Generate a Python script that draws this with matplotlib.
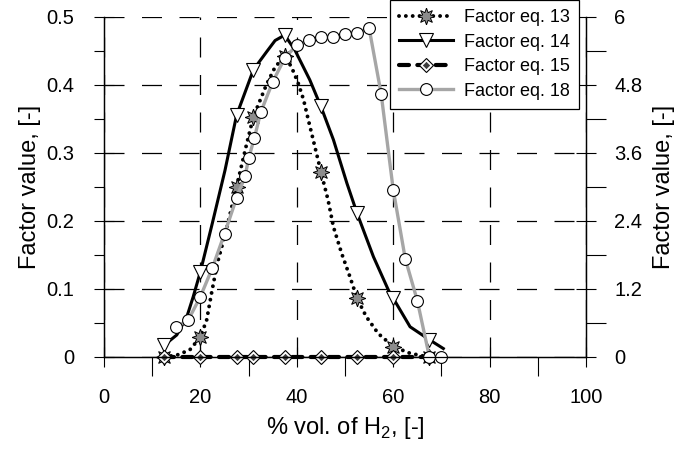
import matplotlib
matplotlib.use('Agg')
import matplotlib.pyplot as plt
from matplotlib.ticker import MultipleLocator, FormatStrFormatter

plt.rcParams['font.family'] = ['Liberation Sans', 'DejaVu Sans']
plt.rcParams['mathtext.fontset'] = 'custom'
plt.rcParams['mathtext.rm'] = 'Liberation Sans'

# точки с маркерами (eq. 13, 14, 15 - левая ось)
xm = [12.5, 20, 27.5, 31, 37.5, 45, 52.5, 60, 67.5]
y13 = [0, 0.029, 0.25, 0.353, 0.442, 0.272, 0.086, 0.015, 0]
y14 = [0.017, 0.125, 0.355, 0.422, 0.473, 0.368, 0.211, 0.086, 0.025]
y15 = [0, 0, 0, 0, 0, 0, 0, 0, 0]

# сглаженные кривые
cx13 = [12.5, 15, 17.8, 20, 21.3, 22.3, 23.5, 25.5, 27.5, 29.5, 31, 33.7, 35.5,
        37.5, 38.9, 40.3, 41.4, 42.4, 43.4, 45, 46.5, 47.6, 49.3, 51, 52.5,
        54.4, 56.9, 60, 63.5, 66.3, 67.5]
cy13 = [0, 0.002, 0.01, 0.029, 0.054, 0.093, 0.137, 0.19, 0.25, 0.31, 0.353,
        0.40, 0.426, 0.442, 0.426, 0.402, 0.378, 0.348, 0.319, 0.272, 0.23,
        0.191, 0.152, 0.118, 0.086, 0.059, 0.034, 0.015, 0.005, 0.001, 0]
cx14 = [12.5, 15.1, 17.2, 18.5, 20, 22.5, 25.1, 27.5, 31, 33.8, 35.5, 37.5,
        39.6, 42.7, 45, 47.6, 50.4, 52.5, 55.9, 59, 60, 63.5, 67.5, 70.4]
cy14 = [0.017, 0.032, 0.059, 0.088, 0.125, 0.197, 0.274, 0.355, 0.422, 0.449,
        0.465, 0.473, 0.451, 0.407, 0.368, 0.319, 0.255, 0.211, 0.147, 0.098,
        0.086, 0.044, 0.025, 0.012]

# eq. 18 - правая ось
x18 = [15, 17.5, 20, 22.5, 25, 27.5, 29.3, 30, 31.2, 32.5, 35, 37.5, 40, 42.5,
       45, 47.5, 50, 52.5, 55, 57.5, 60, 62.5, 65, 67.5, 70]
y18 = [0.52, 0.65, 1.06, 1.57, 2.17, 2.80, 3.19, 3.50, 3.86, 4.31, 4.85, 5.27,
       5.50, 5.59, 5.64, 5.64, 5.69, 5.72, 5.80, 4.64, 2.95, 1.73, 0.99, 0, 0]

labels = ['Factor eq. 13', 'Factor eq. 14', 'Factor eq. 15', 'Factor eq. 18']

dots = dict(color='k', lw=2.8, ls=(0, (0.01, 1.75)), dash_capstyle='round')
star = dict(marker=(8, 1, 0), ms=12, mfc='#8c8c8c', mec='k', mew=0.7)
tri = dict(marker='v', ms=9.5, mfc='white', mec='k', mew=0.8)
dash15 = dict(color='k', lw=3, ls=(0, (2.4, 2)), dash_capstyle='round')
dia_out = dict(marker='D', ms=7, mfc='white', mec='k', mew=0.8)
dia_in = dict(marker='D', ms=3.2, mfc='#3c3c3c', mec='#3c3c3c', mew=0.5)

fig = plt.figure(figsize=(6.81, 4.5), dpi=100)
ax = fig.add_axes([104/681, 1-356.7/450, 482/681, 340/450])
ax2 = ax.twinx()

# eq. 13
ax.plot(cx13, cy13, clip_on=False, **dots)
ax.plot(xm, y13, ls='none', clip_on=False, **star)
h13, = ax.plot([], [], **dots, **star)
# eq. 14
ax.plot(cx14, cy14, color='k', lw=2.2, clip_on=False)
ax.plot(xm, y14, ls='none', clip_on=False, **tri)
h14, = ax.plot([], [], color='k', lw=2.2, **tri)
# eq. 15
ax.plot(xm, y15, clip_on=False, **dash15)
ax.plot(xm, y15, ls='none', clip_on=False, **dia_out)
ax.plot(xm, y15, ls='none', clip_on=False, **dia_in)
h15a, = ax.plot([], [], **dash15, **dia_out)
h15b, = ax.plot([], [], ls='none', **dia_in)
# eq. 18
h18, = ax2.plot(x18, y18, color='#a6a6a6', lw=2.4, marker='o', ms=8.5,
                mfc='white', mec='k', mew=0.8, clip_on=False)

ax.set_xlim(0, 100)
ax.set_ylim(0, 0.5)
ax2.set_ylim(0, 6)

ax.xaxis.set_major_locator(MultipleLocator(20))
ax.xaxis.set_minor_locator(MultipleLocator(10))
ax.yaxis.set_major_locator(MultipleLocator(0.1))
ax.yaxis.set_minor_locator(MultipleLocator(0.05))
ax.yaxis.set_major_formatter(FormatStrFormatter('%g'))
ax2.yaxis.set_major_locator(MultipleLocator(1.2))
ax2.yaxis.set_minor_locator(MultipleLocator(0.6))
ax2.yaxis.set_major_formatter(FormatStrFormatter('%g'))

ax.tick_params(axis='x', which='major', direction='inout', length=14.4, width=0.8,
               labelsize=14.5, pad=15)
ax.tick_params(axis='x', which='minor', direction='out', length=13.7, width=0.8)
ax.tick_params(axis='y', which='major', direction='inout', length=14.4, width=0.8,
               labelsize=14.5, pad=14)
ax.tick_params(axis='y', which='minor', direction='out', length=7.2, width=0.8)
ax2.tick_params(axis='y', which='major', direction='inout', length=15, width=0.8,
                labelsize=14.5, pad=13)
ax2.tick_params(axis='y', which='minor', direction='out', length=14.4, width=0.8)

ax.grid(True, which='major', color='k', lw=0.9, ls=(0, (16, 14)))
for a in (ax, ax2):
    a.spines['top'].set_visible(False)
    for s in ('left', 'right', 'bottom'):
        a.spines[s].set_linewidth(0.9)

ax.set_xlabel('% vol. of H$_\\mathregular{2}$, [-]', fontsize=17)
ax.set_ylabel('Factor value, [-]', fontsize=17)
ax2.set_ylabel('Factor value, [-]', fontsize=17)
ax.xaxis.set_label_coords(0.5, -0.172)
ax.yaxis.set_label_coords(-0.13, 0.5)
ax2.yaxis.set_label_coords(1.139, 0.5)

leg = fig.legend([h13, h14, (h15a, h15b), h18], labels, loc='upper right',
                 bbox_to_anchor=(579/681, 1.0), fontsize=13, frameon=True,
                 fancybox=False, edgecolor='k', framealpha=1, handlelength=3,
                 labelspacing=0.42, borderpad=0.5, handletextpad=0.6, borderaxespad=0)
leg.get_frame().set_linewidth(0.9)

fig.savefig('out.png', dpi=100)
